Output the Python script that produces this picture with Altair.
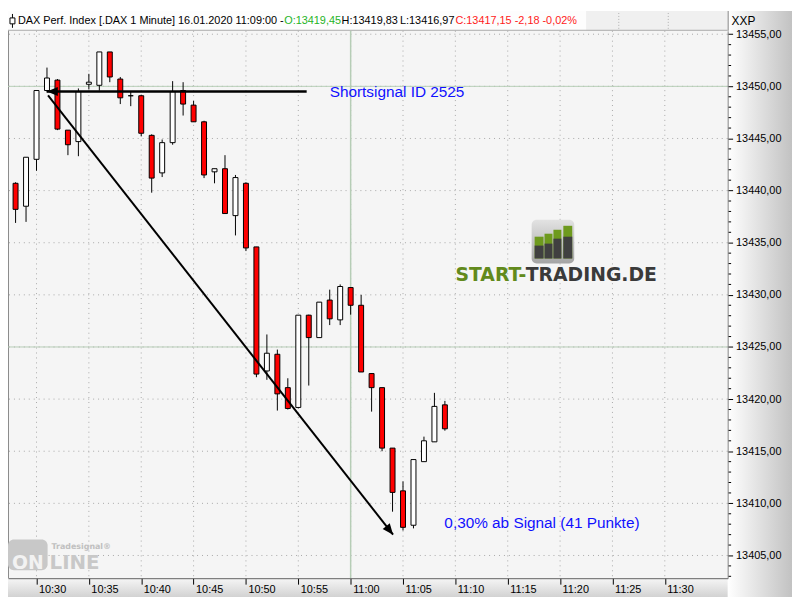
import altair as alt
import pandas as pd

# ---------------- data ----------------
times = ["10:28", "10:29", "10:30", "10:31", "10:32", "10:33", "10:34", "10:35", "10:36", "10:37",
         "10:38", "10:39", "10:40", "10:41", "10:42", "10:43", "10:44", "10:45", "10:46", "10:47",
         "10:48", "10:49", "10:50", "10:51", "10:52", "10:53", "10:54", "10:55", "10:56", "10:57",
         "10:58", "10:59", "11:00", "11:01", "11:02", "11:03", "11:04", "11:05", "11:06", "11:07",
         "11:08", "11:09"]
opens = [13440.7, 13438.5, 13443.0, 13449.6, 13450.6, 13445.8, 13444.7, 13450.2, 13450.1, 13453.3,
         13450.7, 13449.1, 13449.1, 13445.3, 13441.7, 13444.6, 13449.6, 13448.2, 13446.6, 13441.8,
         13442.1, 13437.6, 13440.7, 13434.6, 13422.7, 13424.3, 13421.1, 13419.2, 13428.05, 13425.9,
         13429.5, 13427.6, 13430.7, 13429.0, 13422.45, 13421.1, 13415.3, 13411.2, 13407.9, 13414.0,
         13415.9, 13419.45]
highs = [13440.8, 13443.2, 13449.6, 13451.8, 13450.7, 13445.8, 13449.8, 13451.2, 13453.3, 13453.3,
         13450.9, 13449.5, 13449.2, 13445.4, 13444.9, 13450.5, 13450.4, 13448.6, 13446.7, 13442.1,
         13443.4, 13441.5, 13440.8, 13434.6, 13426.2, 13424.75, 13422.0, 13428.05, 13428.1, 13429.3,
         13430.5, 13431.0, 13430.7, 13430.0, 13422.5, 13421.1, 13415.3, 13412.1, 13414.2, 13416.4,
         13420.6, 13419.83]
lows = [13436.9, 13437.0, 13441.9, 13449.4, 13445.8, 13443.4, 13443.3, 13449.7, 13449.6, 13450.4,
        13448.3, 13448.1, 13445.2, 13439.8, 13441.3, 13444.4, 13447.2, 13446.6, 13441.2, 13440.7,
        13437.8, 13435.7, 13434.2, 13422.1, 13421.85, 13418.9, 13419.0, 13419.1, 13421.3, 13425.9,
        13427.1, 13427.1, 13428.1, 13422.6, 13418.8, 13415.0, 13409.2, 13407.4, 13407.6, 13414.0,
        13415.9, 13416.97]
closes = [13438.2, 13443.2, 13449.6, 13450.8, 13445.9, 13444.4, 13449.5, 13450.4, 13453.3, 13450.9,
          13448.9, 13449.1, 13445.5, 13441.2, 13444.6, 13449.5, 13448.3, 13446.6, 13441.5, 13442.1,
          13437.8, 13441.25, 13434.5, 13422.4, 13424.4, 13420.5, 13419.1, 13428.05, 13425.9, 13429.3,
          13427.7, 13430.8, 13429.0, 13422.6, 13421.1, 13415.3, 13411.05, 13407.7, 13414.2, 13416.0,
          13419.3, 13417.15]

x_tick_labels = ["10:30", "10:35", "10:40", "10:45", "10:50", "10:55", "11:00",
                 "11:05", "11:10", "11:15", "11:20", "11:25", "11:30"]
y_ticks = [13405, 13410, 13415, 13420, 13425, 13430, 13435, 13440, 13445, 13450, 13455]
minor_y_ticks = [p for p in range(13403, 13456) if p % 5 != 0]
solid_levels = [13450, 13425]
solid_times = ["11:00"]

# signal drawing (minutes after midnight, price)
signal_level = 13449.5
signal_start_min = 631.0
signal_end_min = 655.8
arrow_start = (631.1, 13449.13)
arrow_end = (664.05, 13407.0)

annot_text = ["Shortsignal ID 2525", "0,30% ab Signal (41 Punkte)"]
annot_min = [658.0, 668.95]
annot_price = [13449.45, 13408.1]

header_parts = ["DAX Perf. Index [.DAX  1 Minute] 16.01.2020 11:09:00 - ",
                "O:13419,45", "H:13419,83", "L:13416,97", "C:13417,15 -2,18 -0,02%"]


def to_min(s):
    h, m = s.split(":")
    return int(h) * 60 + float(m)


df = pd.DataFrame({"t": [to_min(s) for s in times], "open": opens, "high": highs,
                   "low": lows, "close": closes})
df["dir"] = ["up" if c > o else ("down" if c < o else "flat") for o, c in zip(opens, closes)]

xs = alt.Scale(domain=[627.75, 695.53], nice=False, zero=False)
ys = alt.Scale(domain=[13402.82, 13455.33], nice=False, zero=False)

FONT = "Liberation Sans"
xaxis = alt.Axis(values=[to_min(s) for s in x_tick_labels],
                 labelExpr="floor(datum.value/60) + ':' + format(datum.value % 60, '02d')",
                 tickSize=6, tickColor="#000000", domainColor="#606060", grid=False,
                 labelAlign="left", labelBaseline="top", labelPadding=-1, labelOffset=2,
                 labelFontSize=11, labelFont=FONT, labelColor="#000000", title=None,
                 zindex=1, labelFlush=False, labelOverlap=False, orient="bottom")
yaxis = alt.Axis(values=y_ticks, orient="right",
                 labelExpr="replace(format(datum.value, '.2f'), '.', ',')",
                 tickSize=5, tickColor="#000000", domainColor="#808080", grid=False,
                 labelPadding=3, labelFontSize=11, labelFont=FONT, labelColor="#000000",
                 title=None, zindex=1, labelBaseline="middle", labelAlign="left",
                 labelFlush=False, labelOverlap=False)

X = lambda f: alt.X(f, scale=xs, axis=xaxis)
Y = lambda f: alt.Y(f, scale=ys, axis=yaxis)

dummy = pd.DataFrame({"k": [0]})
W, H = 727, 553


def rect(x, x2, y, y2, **kw):
    return alt.Chart(dummy).mark_rect(**kw).encode(
        x=alt.value(x), x2=alt.value(x2), y=alt.value(y), y2=alt.value(y2))


def text(x, y, s, **kw):
    return alt.Chart(dummy).mark_text(text=s, **kw).encode(x=alt.value(x), y=alt.value(y))


def hline(x, x2, y, **kw):
    return alt.Chart(dummy).mark_rule(**kw).encode(
        x=alt.value(x), x2=alt.value(x2), y=alt.value(y))


def vline(x, y, y2, **kw):
    return alt.Chart(dummy).mark_rule(**kw).encode(
        x=alt.value(x), y=alt.value(y), y2=alt.value(y2))


grad_h = alt.LinearGradient(gradient="linear", x1=0, x2=1, y1=0, y2=0,
                            stops=[alt.GradientStop(offset=0, color="#ffffff"),
                                   alt.GradientStop(offset=1, color="#c2c2c2")])
grad_v = alt.LinearGradient(gradient="linear", x1=0, x2=0, y1=0, y2=1,
                            stops=[alt.GradientStop(offset=0, color="#f6f6f6"),
                                   alt.GradientStop(offset=1, color="#d2d2d2")])
grad_icon = alt.LinearGradient(gradient="linear", x1=0, x2=0, y1=0, y2=1,
                               stops=[alt.GradientStop(offset=0, color="#e2e2e2"),
                                      alt.GradientStop(offset=1, color="#a4a4a4")])

layers = []
# panels
layers += [
    rect(0, 584, -20, 0, fill="#fdfdfd"),
    rect(584, W, -20, 0, fill="#f0f0f0"),
    rect(W, 792, -20, 572, fill=grad_h),
    rect(0, W, H, 572, fill=grad_v),
    vline(617, -18, -2, color="#b0b0b0", strokeDash=[1, 2]),
    vline(667, -18, -2, color="#b0b0b0", strokeDash=[1, 2]),
    vline(727.5, -20, 0, color="#808080"),
    hline(0, W, -0.5, color="#a8a8a8"),
    vline(0.5, 0, H, color="#8a8a8a"),
]

# grid
layers.append(alt.Chart(pd.DataFrame({"x": [to_min(s) for s in x_tick_labels]})).mark_rule(
    color="#a8a8a8", strokeDash=[1, 4], strokeWidth=1).encode(x=X("x:Q")))
layers.append(alt.Chart(pd.DataFrame({"y": y_ticks})).mark_rule(
    color="#a8a8a8", strokeDash=[1, 4], strokeWidth=1).encode(y=Y("y:Q")))
layers.append(alt.Chart(pd.DataFrame({"y": solid_levels})).mark_rule(
    color="#b6cdb6", strokeWidth=1).encode(y=Y("y:Q")))
layers.append(alt.Chart(pd.DataFrame({"x": [to_min(s) for s in solid_times]})).mark_rule(
    color="#b6cdb6", strokeWidth=1.5).encode(x=X("x:Q")))

# logo START-TRADING.DE
layers += [
    rect(529, 572, 191, 235, fill=grad_icon, cornerRadius=5),
    rect(532, 541, 208, 230, fill="#6e9a1e"),
    rect(542, 550, 205, 230, fill="#6e9a1e"),
    rect(551, 559, 201, 230, fill="#6e9a1e"),
    rect(561, 570, 197, 230, fill="#6e9a1e"),
    rect(532, 541, 217, 230, fill="#404040"),
    rect(542, 550, 215, 230, fill="#404040"),
    rect(551, 559, 210, 230, fill="#404040"),
    rect(561, 570, 208, 230, fill="#404040"),
    text(452, 247, "START-", font="DejaVu Sans", fontWeight="bold", fontSize=19,
         color="#628a1c", align="left", baseline="middle"),
    text(523, 247, "TRADING.DE", font="DejaVu Sans", fontWeight="bold", fontSize=19,
         color="#3a3a3a", align="left", baseline="middle"),
]
# watermark Tradesignal online
layers += [
    rect(0, 40, 514, 545, fill="#c8c8c8", cornerRadius=6),
    text(20, 544, "ON", font="DejaVu Sans", fontWeight="bold", fontSize=19,
         color="#f2f2f2", align="center", baseline="alphabetic"),
    text(42, 544, "LINE", font="DejaVu Sans", fontWeight="bold", fontSize=20,
         color="#c8c8c8", align="left", baseline="alphabetic"),
    text(44, 521, "Tradesignal®", font="DejaVu Sans", fontWeight="bold", fontSize=8,
         color="#c0c0c0", align="left", baseline="middle"),
]

# candles
base = alt.Chart(df)
layers.append(base.mark_rule(color="#000000", strokeWidth=1).encode(
    x=X("t:Q"), y=Y("low:Q"), y2="high:Q"))
layers.append(base.mark_bar(size=5, stroke="#000000", strokeWidth=1).encode(
    x=X("t:Q"), y=Y("open:Q"), y2="close:Q",
    fill=alt.Fill("dir:N", scale=alt.Scale(domain=["up", "down", "flat"],
                                           range=["#ffffff", "#ff0000", "#000000"]),
                  legend=None)))

# signal lines
sig = pd.DataFrame({"x": [signal_start_min], "x2": [signal_end_min],
                    "y": [signal_level], "y2": [signal_level]})
layers.append(alt.Chart(sig).mark_rule(color="#000000", strokeWidth=2.5).encode(
    x=X("x:Q"), x2="x2:Q", y=Y("y:Q"), y2="y2:Q"))
arr = pd.DataFrame({"x": [arrow_start[0]], "x2": [arrow_end[0]],
                    "y": [arrow_start[1]], "y2": [arrow_end[1]]})
layers.append(alt.Chart(arr).mark_rule(color="#000000", strokeWidth=2).encode(
    x=X("x:Q"), x2="x2:Q", y=Y("y:Q"), y2="y2:Q"))
heads = pd.DataFrame({"x": [arrow_end[0], signal_start_min],
                      "y": [arrow_end[1], signal_level],
                      "a": [141, 270]})
layers.append(alt.Chart(heads).mark_point(
    shape="M0,0L-0.42,1L0.42,1Z", size=480, filled=True, color="#000000", opacity=1).encode(
    x=X("x:Q"), y=Y("y:Q"), angle=alt.Angle("a:Q", scale=None)))

# annotations
ann = pd.DataFrame({"x": annot_min, "y": annot_price, "s": annot_text})
layers.append(alt.Chart(ann).mark_text(
    align="left", baseline="middle", font=FONT, fontSize=15.5, color="#1010ff").encode(
    x=X("x:Q"), y=Y("y:Q"), text="s:N"))

# minor ticks on price axis
layers.append(alt.Chart(pd.DataFrame({"y": minor_y_ticks})).mark_rule(
    color="#000000", strokeWidth=1).encode(y=Y("y:Q"), x=alt.value(727.5), x2=alt.value(730.5)))

# header
header_x = [10, 279, 337, 396, 452]
header_col = ["#000000", "#1fb41f", "#000000", "#000000", "#ff1a1a"]
for s, hx, hc in zip(header_parts, header_x, header_col):
    layers.append(text(hx, -10, s, font=FONT, fontSize=11, color=hc,
                       align="left", baseline="middle"))
layers += [
    vline(4.5, -17, -3, color="#000000"),
    rect(2, 7, -13, -7, fill="#ffffff", stroke="#000000", strokeWidth=1),
    text(731, -10, "XXP", font=FONT, fontSize=12, color="#000000",
         align="left", baseline="middle"),
]

chart = alt.layer(*layers).properties(
    width=W, height=H, autosize="none",
    padding={"left": 0, "top": 20, "right": 65, "bottom": 19},
    background="#ffffff",
).configure_view(fill="#f5f5f5", strokeWidth=0)

chart.save("out.html", embed_options={"renderer": "svg", "actions": False})
